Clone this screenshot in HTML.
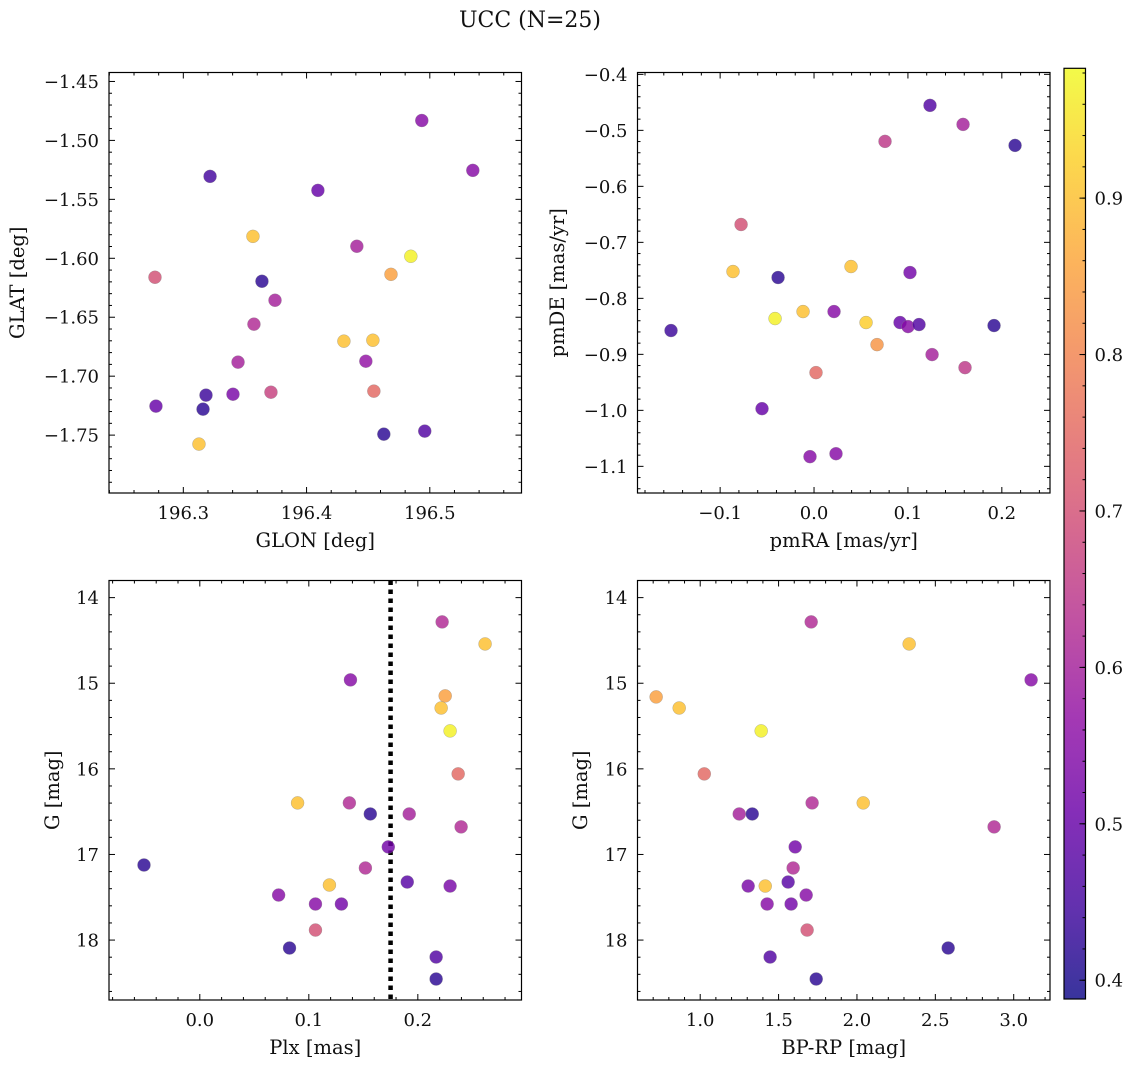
<!DOCTYPE html>
<html><head><meta charset="utf-8"><style>
body{margin:0;background:#fff}
svg text{font-family:"DejaVu Serif","Liberation Serif",serif;fill:#111}
</style></head><body>
<svg id="fig" width="1136" height="1068" viewBox="0 0 1136 1068" xmlns="http://www.w3.org/2000/svg">
<rect width="1136" height="1068" fill="#fff"/>
<text x="530" y="27" font-size="22" text-anchor="middle">UCC (N=25)</text>
</svg>
<script>
const glon=[196.4935,196.5349,196.3217,196.4092,196.3565,196.4408,196.4846,196.277,196.4685,196.3638,196.3744,196.3573,196.4303,196.4538,196.3444,196.4481,196.4546,196.3711,196.3403,196.3184,196.2778,196.316,196.3127,196.4627,196.4959];
const glat=[-1.4831,-1.5254,-1.5305,-1.5424,-1.5814,-1.5898,-1.5983,-1.6161,-1.6136,-1.6195,-1.6356,-1.6559,-1.6703,-1.6695,-1.6881,-1.6873,-1.7127,-1.7136,-1.7153,-1.7161,-1.7254,-1.7280,-1.7576,-1.7492,-1.7466];
const prob1=[0.55,0.55,0.45,0.5,0.9,0.6,0.97,0.7,0.85,0.42,0.6,0.62,0.9,0.9,0.6,0.57,0.75,0.67,0.53,0.44,0.5,0.42,0.9,0.42,0.47];
const pmra=[0.1235,0.1587,0.0756,0.2141,-0.0777,-0.0863,0.0394,0.1022,-0.0383,-0.1523,-0.0415,-0.0117,0.0213,0.0554,0.0916,0.1001,0.1118,0.1917,0.0671,0.1257,0.1608,0.0021,-0.0554,-0.0043,0.0234];
const pmde=[-0.4554,-0.4894,-0.5197,-0.5269,-0.6681,-0.7521,-0.7432,-0.7539,-0.7628,-0.8575,-0.8361,-0.8236,-0.8236,-0.8432,-0.8432,-0.8504,-0.8468,-0.8486,-0.8826,-0.9004,-0.9237,-0.9326,-0.9970,-1.0827,-1.0774];
const prob2=[0.47,0.6,0.65,0.42,0.7,0.9,0.9,0.52,0.42,0.44,0.97,0.9,0.55,0.92,0.5,0.55,0.47,0.42,0.83,0.6,0.65,0.75,0.5,0.55,0.55];
const plx=[0.2223,0.2617,0.1382,0.2251,0.2214,0.2296,0.237,0.0897,0.1372,0.1564,0.1921,0.2397,0.1729,-0.0512,0.1519,0.1189,0.1903,0.2296,0.0723,0.1061,0.1299,0.1061,0.0823,0.2168,0.2168];
const gmag3=[14.284,14.541,14.961,15.148,15.289,15.557,16.059,16.398,16.398,16.527,16.527,16.678,16.912,17.123,17.158,17.357,17.322,17.369,17.474,17.579,17.579,17.883,18.093,18.198,18.455];
const prob3=[0.62,0.9,0.55,0.85,0.9,0.97,0.75,0.9,0.62,0.42,0.6,0.62,0.52,0.42,0.62,0.9,0.48,0.53,0.55,0.55,0.52,0.7,0.42,0.47,0.42];
const bprp=[1.708,2.333,3.111,0.719,0.866,1.389,1.026,1.714,2.040,1.249,1.332,2.875,1.606,1.593,1.561,1.306,1.415,1.676,1.427,1.580,1.682,2.582,1.446,1.740];
const gmag4=[14.284,14.541,14.961,15.16,15.289,15.557,16.059,16.398,16.398,16.527,16.527,16.678,16.912,17.158,17.322,17.369,17.369,17.474,17.579,17.579,17.883,18.093,18.198,18.455];
const prob4=[0.62,0.9,0.55,0.85,0.9,0.97,0.75,0.62,0.9,0.6,0.42,0.62,0.52,0.62,0.48,0.53,0.9,0.55,0.55,0.52,0.7,0.42,0.47,0.42];
const plxLine=[0.175];
const cbTicks=[0.4,0.5,0.6,0.7,0.8,0.9];
const cmin=0.388,cmax=0.983;

const FS=18, LFS=19.5;
const NS="http://www.w3.org/2000/svg";
const svg=document.getElementById('fig');
function mk(t,a,p){const e=document.createElementNS(NS,t);for(const k in a)e.setAttribute(k,a[k]);(p||svg).appendChild(e);return e;}
const stops=[[13,8,135],[65,4,157],[106,0,168],[143,13,164],[177,42,144],[204,71,120],[225,100,98],[242,132,75],[252,166,54],[252,206,37],[240,249,33]];
function plasma(t){t=Math.max(0,Math.min(1,t))*10;const i=Math.min(9,Math.floor(t)),f=t-i;const a=stops[i],b=stops[i+1];return 'rgb('+a.map((v,k)=>Math.round(v+(b[k]-v)*f)).join(',')+')';}
function fmt(v,d){return (v<0?'\u2212':'')+Math.abs(v).toFixed(d);}

function panel(o){
  const g=mk('g',{});
  
  
  const sx=v=>o.L+(v-o.x0)/(o.x1-o.x0)*(o.R-o.L);
  const sy=v=>o.T+(v-o.y0)/(o.y1-o.y0)*(o.B-o.T);
  const eps=1e-9;
  for(let v=Math.ceil(o.x0/o.xmin-eps)*o.xmin;v<=o.x1+eps;v+=o.xmin){
    const X=sx(v);const maj=Math.abs(v/o.xmaj-Math.round(v/o.xmaj))<1e-6;const l=maj?6:3;
    mk('line',{x1:X,x2:X,y1:o.B,y2:o.B-l,stroke:'#000','stroke-width':1},g);
    mk('line',{x1:X,x2:X,y1:o.T,y2:o.T+l,stroke:'#000','stroke-width':1},g);
  }
  for(let v=Math.ceil(Math.min(o.y0,o.y1)/o.ymin-eps)*o.ymin;v<=Math.max(o.y0,o.y1)+eps;v+=o.ymin){
    const Y=sy(v);const maj=Math.abs(v/o.ymaj-Math.round(v/o.ymaj))<1e-6;const l=maj?6:3;
    mk('line',{x1:o.L,x2:o.L+l,y1:Y,y2:Y,stroke:'#000','stroke-width':1},g);
    mk('line',{x1:o.R,x2:o.R-l,y1:Y,y2:Y,stroke:'#000','stroke-width':1},g);
  }
  o.xticks.forEach(v=>{const t=mk('text',{x:sx(v),y:o.B+26,'font-size':FS,'text-anchor':'middle'},g);t.textContent=fmt(v,o.xd);
    
    });
  o.yticks.forEach(v=>{const t=mk('text',{x:o.L-10,y:sy(v)+6.5,'font-size':FS,'text-anchor':'end'},g);t.textContent=fmt(v,o.yd);
    
    });
  const xl=mk('text',{x:(o.L+o.R)/2,y:o.B+54,'font-size':LFS,'text-anchor':'middle'},g);xl.textContent=o.xlabel;
  
  
  const yl=mk('text',{x:o.ylx,y:(o.T+o.B)/2,'font-size':LFS,'text-anchor':'middle',transform:'rotate(-90 '+o.ylx+' '+(o.T+o.B)/2+')'},g);yl.textContent=o.ylabel;
  
  
  if(o.vline){o.vline.forEach(v=>{const l=mk('line',{x1:sx(v),x2:sx(v),y1:o.T,y2:o.B,stroke:'#000','stroke-width':4.5,'stroke-dasharray':'4.5 4.5'},g);
    
    });}
  o.xs.forEach((v,i)=>{const c=mk('circle',{cx:sx(v),cy:sy(o.ys[i]),r:6.5,fill:plasma((o.cs[i]-cmin)/(cmax-cmin)),'fill-opacity':0.82,stroke:'#888','stroke-width':0.5,'stroke-opacity':0.6},g);
    
    });
  mk('rect',{x:o.L,y:o.T,width:o.R-o.L,height:o.B-o.T,fill:'none',stroke:'#000','stroke-width':1.2},g);
}
panel({name:'glon-glat-panel',L:109,R:521.5,T:72.5,B:493,x0:196.2397,x1:196.5744,y0:-1.4424,y1:-1.7991,xmaj:0.1,xmin:0.02,ymaj:0.05,ymin:0.01,
  xticks:[196.3,196.4,196.5],yticks:[-1.45,-1.5,-1.55,-1.6,-1.65,-1.7,-1.75],xd:1,yd:2,xlabel:'GLON [deg]',ylabel:'GLAT [deg]',ylx:24,xs:glon,ys:glat,cs:prob1});
panel({name:'pm-panel',L:637.5,R:1050,T:72.5,B:493,x0:-0.188,x1:0.2513,y0:-0.3967,y1:-1.1476,xmaj:0.1,xmin:0.02,ymaj:0.1,ymin:0.02,
  xticks:[-0.1,0,0.1,0.2],yticks:[-0.4,-0.5,-0.6,-0.7,-0.8,-0.9,-1.0,-1.1],xd:1,yd:1,xlabel:'pmRA [mas/yr]',ylabel:'pmDE [mas/yr]',ylx:564,xs:pmra,ys:pmde,cs:prob2});
panel({name:'plx-g-panel',L:109,R:521.5,T:580.5,B:1000,x0:-0.0833,x1:0.2951,y0:13.80,y1:18.70,xmaj:0.1,xmin:0.02,ymaj:1,ymin:0.2,
  xticks:[0,0.1,0.2],yticks:[14,15,16,17,18],xd:1,yd:0,xlabel:'Plx [mas]',ylabel:'G [mag]',ylx:59,xs:plx,ys:gmag3,cs:prob3,vline:plxLine});
panel({name:'cmd-panel',L:637.5,R:1050,T:580.5,B:1000,x0:0.600,x1:3.2315,y0:13.80,y1:18.70,xmaj:0.5,xmin:0.1,ymaj:1,ymin:0.2,
  xticks:[1.0,1.5,2.0,2.5,3.0],yticks:[14,15,16,17,18],xd:1,yd:0,xlabel:'BP-RP [mag]',ylabel:'G [mag]',ylx:587,xs:bprp,ys:gmag4,cs:prob4});

const cb=mk('g',{});


const CT=68.3,CB=999,CL=1064,CR=1085.5;
const defs=mk('defs',{},cb);const lg=mk('linearGradient',{id:'cbg',x1:0,y1:1,x2:0,y2:0},defs);
for(let i=0;i<=20;i++){mk('stop',{offset:i/20,'stop-color':plasma(i/20)},lg);}
mk('rect',{x:CL,y:CT,width:CR-CL,height:CB-CT,fill:'url(#cbg)','fill-opacity':0.82},cb);
const cy=v=>CB-(v-cmin)/(cmax-cmin)*(CB-CT);
for(let v=0.4;v<=cmax;v+=0.02){mk('line',{x1:CR,x2:CR-3,y1:cy(v),y2:cy(v),stroke:'#000','stroke-width':1},cb);}
cbTicks.forEach(v=>{mk('line',{x1:CR,x2:CR-6,y1:cy(v),y2:cy(v),stroke:'#000','stroke-width':1},cb);
  const t=mk('text',{x:CR+9,y:cy(v)+6.5,'font-size':FS},cb);t.textContent=v.toFixed(1);
  
  });
mk('rect',{x:CL,y:CT,width:CR-CL,height:CB-CT,fill:'none',stroke:'#000','stroke-width':1.2},cb);
</script>
</body></html>
